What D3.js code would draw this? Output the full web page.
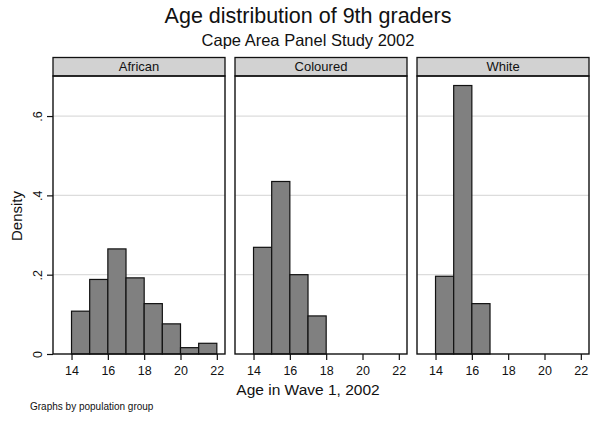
<!DOCTYPE html>
<html>
<head>
<meta charset="utf-8">
<script src="https://cdn.jsdelivr.net/npm/d3@7"></script>
<style>
  body { margin: 0; background: #fff; }
  svg { display: block; font-family: 'Liberation Sans', Arial, sans-serif; }
</style>
</head>
<body>
<svg id="chart" width="600" height="422"></svg>
<script>
// histogram bins: age [start, start+1), density per group
const groups = ['African', 'Coloured', 'White'];
const binStarts = [14, 15, 16, 17, 18, 19, 20, 21];
const african = [0.108, 0.188, 0.265, 0.192, 0.127, 0.076, 0.016, 0.027];
const coloured = [0.269, 0.435, 0.200, 0.096];
const white = [0.196, 0.677, 0.127];
const xTicks = [14, 16, 18, 20, 22];
const yTicks = [0, 0.2, 0.4, 0.6];

const series = [african, coloured, white];

const svg = d3.select('#chart');
const plotTop = 76, plotBottom = 354;
const panelW = 172, gap = 10, left0 = 53;

const y = d3.scaleLinear().domain([0, 0.701]).range([plotBottom, plotTop]);
const fmt = d => d === 0 ? '0' : d3.format('.1f')(d).replace(/^0/, '');

svg.append('text')
    .attr('x', 308).attr('y', 23)
    .attr('text-anchor', 'middle')
    .attr('font-size', 21.5)
    .attr('fill', '#111')
    .text('Age distribution of 9th graders');
svg.append('text')
    .attr('x', 308).attr('y', 46)
    .attr('text-anchor', 'middle')
    .attr('font-size', 16.5)
    .attr('fill', '#111')
    .text('Cape Area Panel Study 2002');

groups.forEach((name, i) => {
  const x0 = left0 + i * (panelW + gap);
  const x = d3.scaleLinear().domain([12.98, 22.45]).range([x0, x0 + panelW]);
  const g = svg.append('g');

  // header strip
  g.append('rect')
      .attr('x', x0).attr('y', 57.5)
      .attr('width', panelW).attr('height', plotTop - 57.5)
      .attr('fill', '#d2d2d2')
      .attr('stroke', '#111').attr('stroke-width', 1.3);
  g.append('text')
      .attr('x', x0 + panelW / 2).attr('y', 71)
      .attr('text-anchor', 'middle')
      .attr('font-size', 13)
      .attr('fill', '#111')
      .text(name);

  // gridlines
  g.selectAll('.grid').data(yTicks.filter(d => d > 0)).join('line')
      .attr('x1', x0).attr('x2', x0 + panelW)
      .attr('y1', d => y(d)).attr('y2', d => y(d))
      .attr('stroke', '#dcdcdc').attr('stroke-width', 1.2);

  // bars
  g.selectAll('.bar').data(series[i]).join('rect')
      .attr('x', (d, j) => x(binStarts[j]))
      .attr('y', d => y(d))
      .attr('width', (d, j) => x(binStarts[j] + 1) - x(binStarts[j]))
      .attr('height', d => y(0) - y(d))
      .attr('fill', '#808080')
      .attr('stroke', '#111').attr('stroke-width', 1.2);

  // frame
  g.append('rect')
      .attr('x', x0).attr('y', plotTop)
      .attr('width', panelW).attr('height', plotBottom - plotTop)
      .attr('fill', 'none')
      .attr('stroke', '#111').attr('stroke-width', 1.4);

  // x axis
  const xa = g.append('g')
      .attr('transform', `translate(0,${plotBottom})`)
      .call(d3.axisBottom(x).tickValues(xTicks).tickSize(6).tickPadding(6).tickFormat(d3.format('d')));
  xa.select('.domain').remove();
  xa.selectAll('line').attr('stroke', '#111').attr('stroke-width', 1.2);
  xa.selectAll('text').attr('font-size', 12.5).attr('fill', '#111').attr('font-family', null);

  if (i === 0) {
    const ya = g.append('g')
        .attr('transform', `translate(${x0},0)`)
        .call(d3.axisLeft(y).tickValues(yTicks).tickSize(6).tickFormat(fmt));
    ya.select('.domain').remove();
    ya.selectAll('line').attr('stroke', '#111').attr('stroke-width', 1.2);
    ya.selectAll('text')
        .attr('font-size', 12.5).attr('fill', '#111').attr('font-family', null)
        .attr('x', null).attr('dy', null)
        .attr('text-anchor', 'middle')
        .attr('transform', 'translate(-11,0) rotate(-90)');
  }
});

svg.append('text')
    .attr('transform', 'translate(22,216) rotate(-90)')
    .attr('text-anchor', 'middle')
    .attr('font-size', 15)
    .attr('fill', '#111')
    .text('Density');

svg.append('text')
    .attr('x', 308).attr('y', 395)
    .attr('text-anchor', 'middle')
    .attr('font-size', 15.5)
    .attr('fill', '#111')
    .text('Age in Wave 1, 2002');

svg.append('text')
    .attr('x', 30).attr('y', 410)
    .attr('font-size', 10)
    .attr('fill', '#111')
    .text('Graphs by population group');
</script>
</body>
</html>
